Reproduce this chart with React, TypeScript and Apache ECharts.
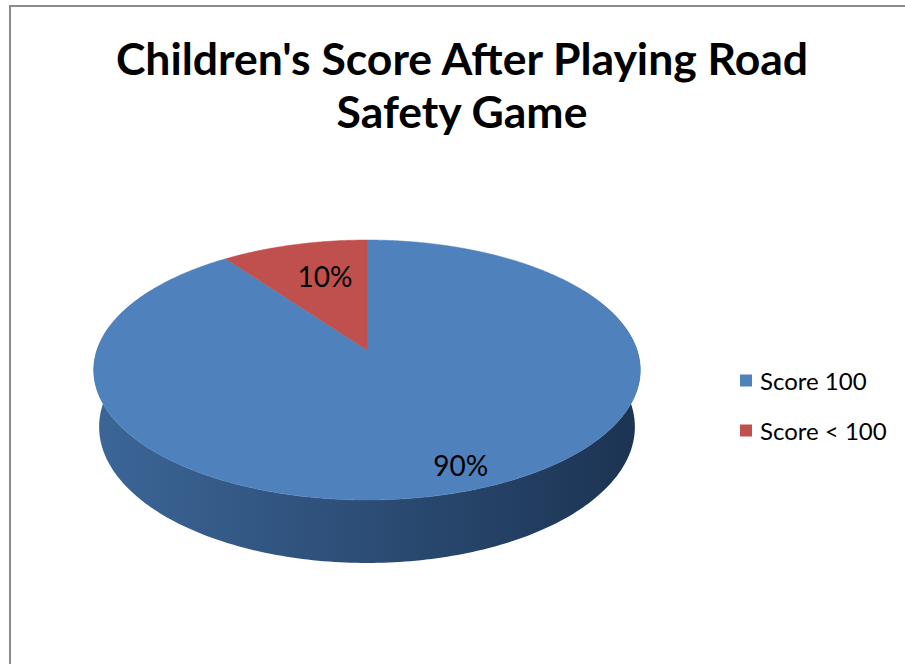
import React, { useEffect, useRef } from "react";
import * as echarts from "echarts";

const titleText = "Children's Score After Playing Road\nSafety Game";
const categories = ["Score 100", "Score < 100"];
const values = [90, 10];
const colors = ["#4F81BD", "#C0504D"];
const sideColors = [
  ["#3C6698", "#2C4D75", "#1C3352"],
  ["#9A3F3D", "#7A3230", "#5A2523"],
];
// label placement (fraction of radius, angle shift in degrees), per slice
const labelRadius = [0.85, 0.66];
const labelAngleShift = [-3, 3];

// projection parameters for the tilted disc
const F = 1550, D = 5.74, SINP = 0.47, COSP = 0.883, CX = 367, CY = 350, T = 0.241;

function project(X: number, Y: number, Z: number): number[] {
  const depth = D + Z * COSP - Y * SINP;
  const yUp = Y * COSP + Z * SINP;
  return [CX + (F * X) / depth, CY - (F * yUp) / depth];
}
function circlePt(deg: number, r: number, Y: number): number[] {
  const t = (deg * Math.PI) / 180;
  return project(r * Math.sin(t), Y, r * Math.cos(t));
}

export default function App() {
  const ref = useRef<HTMLDivElement>(null);
  useEffect(() => {
    if (!ref.current) return;
    const chart = echarts.init(ref.current, undefined, { renderer: "svg" });
    const total = values.reduce((a, b) => a + b, 0);

    const renderItem = (params: any, api: any) => {
      const idx = params.dataIndex;
      let start = 0;
      for (let i = 0; i < idx; i++) start += (values[i] / total) * 360;
      const v = api.value(0);
      const end = start + (v / total) * 360;
      const children: any[] = [];

      // side (front visible part)
      const s = Math.max(start, 60);
      const e = Math.min(end, 300);
      if (e > s) {
        const pts: number[][] = [];
        for (let d = s; d <= e; d += 1) pts.push(circlePt(d, 1, 0));
        pts.push(circlePt(e, 1, 0));
        const bot: number[][] = [];
        for (let d = s; d <= e; d += 1) bot.push(circlePt(d, 1, -T));
        bot.push(circlePt(e, 1, -T));
        for (let i = bot.length - 1; i >= 0; i--) pts.push(bot[i]);
        const sc = sideColors[idx];
        children.push({
          type: "polygon",
          z2: 1,
          shape: { points: pts },
          style: {
            fill: new echarts.graphic.LinearGradient(0, 0, 1, 0, [
              { offset: 0, color: sc[0] },
              { offset: 0.5, color: sc[1] },
              { offset: 1, color: sc[2] },
            ]),
          },
        });
      }

      // top face
      const top: number[][] = [circlePt(0, 0, 0)];
      for (let d = start; d <= end; d += 0.5) top.push(circlePt(d, 1, 0));
      top.push(circlePt(end, 1, 0));
      children.push({
        type: "polygon",
        z2: 10,
        shape: { points: top },
        style: { fill: colors[idx], stroke: colors[idx], lineWidth: 0.5 },
      });

      // label
      const mid = (start + end) / 2 + labelAngleShift[idx];
      const lp = circlePt(mid, labelRadius[idx], 0);
      children.push({
        type: "text",
        z2: 20,
        x: lp[0],
        y: lp[1],
        style: {
          text: Math.round((v / total) * 100) + "%",
          fill: "#000",
          fontSize: 28,
          fontFamily: "Lato",
          align: "center",
          verticalAlign: "middle",
        },
      });
      return { type: "group", children };
    };

    chart.setOption({
      animation: false,
      backgroundColor: "#fff",
      title: {
        text: titleText,
        left: 457,
        top: 26,
        textAlign: "center",
        textStyle: {
          fontFamily: "Lato",
          fontWeight: "bold",
          fontSize: 44.5,
          lineHeight: 53,
          color: "#000",
        },
      },
      legend: {
        orient: "vertical",
        left: 735,
        top: 363,
        icon: "rect",
        itemWidth: 12,
        itemHeight: 12,
        itemGap: 25,
        data: categories,
        textStyle: {
          fontFamily: "Lato",
          fontSize: 24,
          lineHeight: 25,
          color: "#000",
          padding: [0, 0, 0, 3],
        },
      },
      graphic: [
        { type: "line", shape: { x1: 10, y1: 5, x2: 10, y2: 664 }, style: { stroke: "#8c8c8c", lineWidth: 2 } },
        { type: "line", shape: { x1: 9, y1: 6, x2: 905, y2: 6 }, style: { stroke: "#8c8c8c", lineWidth: 2 } },
      ],
      series: [
        {
          type: "custom",
          coordinateSystem: "none",
          renderItem,
          data: values.map((v, i) => ({ name: categories[i], value: [v] })),
          silent: true,
        },
        {
          type: "pie",
          radius: [0, 0],
          center: [-100, -100],
          silent: true,
          label: { show: false },
          labelLine: { show: false },
          data: values.map((v, i) => ({ name: categories[i], value: v, itemStyle: { color: colors[i] } })),
        },
      ],
    });
    return () => chart.dispose();
  }, []);
  return (
    <div
      ref={ref}
      style={{ position: "absolute", left: 0, top: 0, width: 905, height: 664, background: "#fff" }}
    />
  );
}
